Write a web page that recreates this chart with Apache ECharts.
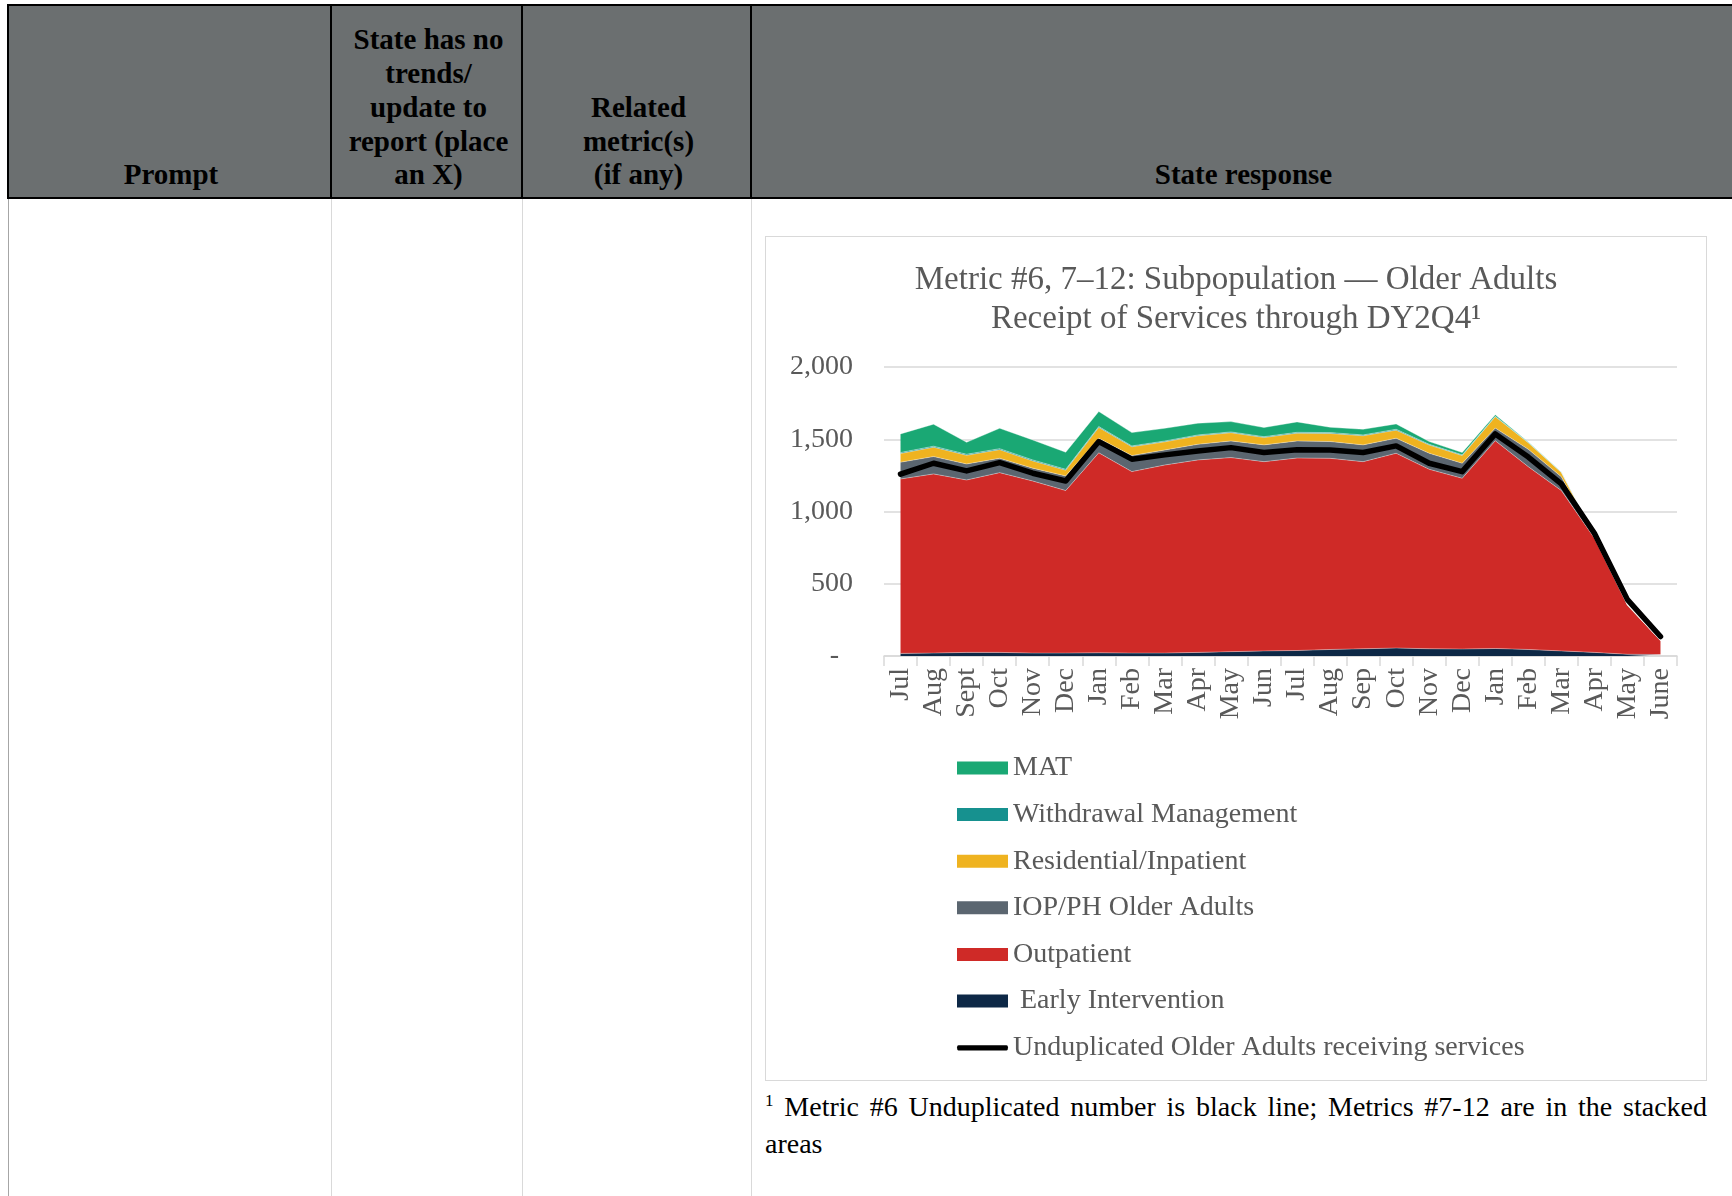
<!DOCTYPE html>
<html>
<head>
<meta charset="utf-8">
<script src="https://cdn.jsdelivr.net/npm/echarts@6/dist/echarts.min.js"></script>
<style>
  html, body { margin: 0; padding: 0; background: #fff; }
  body { width: 1732px; height: 1196px; position: relative; overflow: hidden;
         font-family: 'Liberation Serif', 'Times New Roman', serif; }
  .head { position: absolute; left: 7px; top: 4px; width: 1725px; height: 195px;
          background: #6b6f70; border-top: 2px solid #000; border-bottom: 2px solid #000;
          border-left: 2px solid #000; box-sizing: border-box; }
  .hcell { position: absolute; top: 0; bottom: 0; display: flex; flex-direction: column;
           justify-content: flex-end; text-align: center; font-weight: bold; font-size: 29px;
           line-height: 33.7px; color: #000; padding-bottom: 5px; box-sizing: border-box; }
  .vline { position: absolute; width: 2px; background: #000; top: 4px; height: 195px; }
  .bline { position: absolute; width: 1px; background: #d9d9d9; top: 199px; bottom: 0; }
  #frame { position: absolute; left: 765px; top: 236px; width: 942px; height: 845px;
           border: 1.5px solid #d9d9d9; box-sizing: border-box; }
  #weightChart { width: 100%; height: 100%; }
  .note { position: absolute; left: 765px; top: 1088px; width: 942px; font-size: 28px;
          line-height: 37px; color: #000; text-align: justify; }
  .note sup { font-size: 17px; vertical-align: 10px; line-height: 0; }
</style>
</head>
<body>
  <div class="head">
    <div class="hcell" style="left:0;width:324px">Prompt</div>
    <div class="hcell" style="left:324px;width:191px">State has no<br>trends/<br>update to<br>report (place<br>an X)</div>
    <div class="hcell" style="left:515px;width:229px">Related<br>metric(s)<br>(if any)</div>
    <div class="hcell" style="left:744px;width:981px">State response</div>
  </div>
  <div class="vline" style="left:330px"></div>
  <div class="vline" style="left:521px"></div>
  <div class="vline" style="left:750px"></div>
  <div class="bline" style="left:8px;background:#a6a6a6"></div>
  <div class="bline" style="left:331px"></div>
  <div class="bline" style="left:522px"></div>
  <div class="bline" style="left:751px"></div>

  <div id="frame"><div id="weightChart"></div></div>

  <div class="note"><sup>1</sup> Metric #6 Unduplicated number is black line; Metrics #7-12 are in the stacked areas</div>

<script>
// 横坐标：两个年度的月份
var months = ['Jul', 'Aug', 'Sept', 'Oct', 'Nov', 'Dec', 'Jan', 'Feb', 'Mar', 'Apr', 'May', 'Jun',
  'Jul', 'Aug', 'Sep', 'Oct', 'Nov', 'Dec', 'Jan', 'Feb', 'Mar', 'Apr', 'May', 'June'];

// 堆叠面积（从下往上）
var earlyIntervention = [18, 20, 25, 25, 20, 20, 22, 20, 20, 25, 30, 35, 38, 45, 50, 55, 50, 48, 52, 45, 35, 25, 12, 10];
var outpatient = [1207, 1240, 1193, 1244, 1191, 1125, 1384, 1256, 1302, 1332, 1343, 1310, 1332, 1323, 1295, 1348, 1242, 1182, 1438, 1265, 1110, 790, 338, 95];
var iopPh = [116, 120, 111, 99, 89, 101, 101, 111, 104, 108, 115, 116, 118, 116, 116, 104, 111, 104, 87, 120, 95, 10, 3, 2];
var residential = [60, 65, 60, 60, 50, 40, 75, 61, 56, 59, 57, 51, 54, 56, 63, 56, 57, 53, 79, 45, 30, 5, 2, 0];
var withdrawal = [7, 7, 7, 7, 7, 6, 6, 6, 6, 6, 6, 6, 6, 6, 6, 6, 5, 5, 4, 3, 2, 1, 0, 0];
var mat = [129, 152, 83, 141, 138, 118, 104, 92, 88, 81, 71, 63, 72, 37, 39, 37, 19, 16, 10, 3, 2, 1, 0, 0];

// 黑线：去重人数
var unduplicated = [1258, 1334, 1281, 1338, 1265, 1211, 1484, 1362, 1392, 1419, 1442, 1408, 1428, 1426, 1408, 1454, 1334, 1276, 1537, 1377, 1191, 850, 390, 135];

var yTicks = [0, 500, 1000, 1500, 2000];

var serif = "'Liberation Serif', 'Times New Roman', serif";
var grey = '#595959';

function areaSeries(name, color, data) {
  return {
    name: name,
    type: 'line',
    stack: 'services',
    symbol: 'none',
    lineStyle: { width: 1, color: 'rgba(255,255,255,0.35)' },
    itemStyle: { color: color },
    areaStyle: { color: color, opacity: 1 },
    data: data
  };
}

var chartDom = document.getElementById('weightChart');
var myChart = echarts.init(chartDom);
var option = {
  animation: false,
  title: {
    text: 'Metric #6, 7–12: Subpopulation — Older Adults\nReceipt of Services through DY2Q4¹',
    left: 'center',
    top: 19,
    textStyle: { fontFamily: serif, fontSize: 33, fontWeight: 'normal', color: grey, lineHeight: 39 }
  },
  grid: { left: 118, right: 29, top: 130, height: 289 },
  legend: {
    orient: 'vertical',
    left: 186,
    top: 512,
    itemWidth: 51,
    itemHeight: 13,
    itemGap: 18.6,
    textStyle: { fontFamily: serif, fontSize: 28, color: grey },
    data: [
      { name: 'MAT', icon: 'rect' },
      { name: 'Withdrawal Management', icon: 'rect' },
      { name: 'Residential/Inpatient', icon: 'rect' },
      { name: 'IOP/PH Older Adults', icon: 'rect' },
      { name: 'Outpatient', icon: 'rect' },
      { name: ' Early Intervention', icon: 'rect' },
      // 粗黑线图例：上下留空的细条
      { name: 'Unduplicated Older Adults receiving services', icon: 'path://M0,0M0,13M1,4L50,4Q51.5,4 51.5,6.5Q51.5,9.5 50,9.5L1,9.5Q-0.5,9.5 -0.5,6.5Q-0.5,4 1,4Z' }
    ]
  },
  xAxis: {
    type: 'category',
    boundaryGap: true,
    data: months,
    axisLine: { lineStyle: { color: '#d9d9d9', width: 1.5 } },
    axisTick: { show: true, length: 10, lineStyle: { color: '#d9d9d9', width: 1.5 } },
    axisLabel: { rotate: 90, interval: 0, margin: 12, fontFamily: serif, fontSize: 28, color: grey }
  },
  yAxis: {
    type: 'value',
    min: yTicks[0],
    max: yTicks[yTicks.length - 1],
    interval: 500,
    axisLine: { show: false },
    axisTick: { show: false },
    splitLine: { lineStyle: { color: '#d9d9d9', width: 1.5 } },
    axisLabel: {
      margin: 31,
      fontFamily: serif,
      fontSize: 28,
      color: grey,
      formatter: function (v) {
        return v === 0 ? '-  ' : v.toLocaleString('en-US');
      }
    }
  },
  series: [
    areaSeries(' Early Intervention', '#0d2846', earlyIntervention),
    areaSeries('Outpatient', '#cf2a27', outpatient),
    areaSeries('IOP/PH Older Adults', '#5b6670', iopPh),
    areaSeries('Residential/Inpatient', '#efb320', residential),
    areaSeries('Withdrawal Management', '#16918f', withdrawal),
    areaSeries('MAT', '#1aa874', mat),
    {
      name: 'Unduplicated Older Adults receiving services',
      type: 'line',
      symbol: 'none',
      z: 5,
      lineStyle: { width: 5.5, color: '#000', cap: 'round', join: 'round' },
      itemStyle: { color: '#000' },
      data: unduplicated
    }
  ]
};
option && myChart.setOption(option);
</script>
</body>
</html>
